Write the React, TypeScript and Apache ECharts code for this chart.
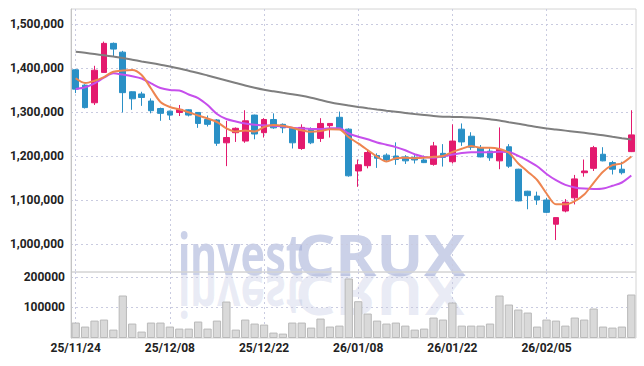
import React, { useEffect, useRef } from 'react';
import * as echarts from 'echarts';

const dates = [
  '25/11/24', '25/11/25', '25/11/26', '25/11/27', '25/11/28', '25/12/01', '25/12/02', '25/12/03', '25/12/04', '25/12/05',
  '25/12/08', '25/12/09', '25/12/10', '25/12/11', '25/12/12', '25/12/15', '25/12/16', '25/12/17', '25/12/18', '25/12/19',
  '25/12/22', '25/12/23', '25/12/24', '25/12/26', '25/12/29', '25/12/30', '26/01/02', '26/01/05', '26/01/06', '26/01/07',
  '26/01/08', '26/01/09', '26/01/12', '26/01/13', '26/01/14', '26/01/15', '26/01/16', '26/01/19', '26/01/20', '26/01/21',
  '26/01/22', '26/01/23', '26/01/26', '26/01/27', '26/01/28', '26/01/29', '26/01/30', '26/02/02', '26/02/03', '26/02/04',
  '26/02/05', '26/02/06', '26/02/09', '26/02/10', '26/02/11', '26/02/12', '26/02/13', '26/02/19', '26/02/20', '26/02/23',
];

const openPrice = [
  1396000, 1361000, 1321000, 1390000, 1456000, 1436000, 1346000, 1341000, 1325000, 1308000,
  1302000, 1299000, 1305000, 1299000, 1283000, 1282000, 1230000, 1253000, 1234000, 1293000,
  1253000, 1283000, 1272000, 1263000, 1217000, 1261000, 1240000, 1269000, 1288000, 1261000,
  1166000, 1178000, 1201000, 1202000, 1200000, 1198000, 1197000, 1191000, 1181000, 1206000,
  1187000, 1261000, 1245000, 1218000, 1211000, 1189000, 1221000, 1170000, 1120000, 1109000,
  1100000, 1045000, 1075000, 1105000, 1162000, 1172000, 1204000, 1185000, 1170000, 1210000,
];
const closePrice = [
  1352000, 1310000, 1395000, 1456000, 1443000, 1344000, 1330000, 1333000, 1303000, 1297000,
  1293000, 1306000, 1293000, 1274000, 1272000, 1229000, 1242000, 1263000, 1280000, 1250000,
  1283000, 1264000, 1264000, 1230000, 1265000, 1230000, 1274000, 1274000, 1261000, 1155000,
  1180000, 1208000, 1195000, 1191000, 1192000, 1189000, 1191000, 1185000, 1223000, 1197000,
  1234000, 1232000, 1220000, 1198000, 1196000, 1215000, 1177000, 1098000, 1110000, 1100000,
  1072000, 1060000, 1095000, 1148000, 1166000, 1219000, 1189000, 1170000, 1162000, 1248000,
];
const lowPrice = [
  1343000, 1308000, 1316000, 1390000, 1427000, 1299000, 1305000, 1314000, 1297000, 1280000,
  1282000, 1291000, 1290000, 1264000, 1267000, 1223000, 1177000, 1232000, 1230000, 1238000,
  1242000, 1262000, 1252000, 1217000, 1214000, 1227000, 1232000, 1242000, 1259000, 1153000,
  1130000, 1172000, 1173000, 1189000, 1180000, 1182000, 1183000, 1184000, 1178000, 1176000,
  1183000, 1223000, 1214000, 1197000, 1189000, 1170000, 1173000, 1097000, 1079000, 1089000,
  1070000, 1009000, 1072000, 1090000, 1153000, 1166000, 1188000, 1158000, 1158000, 1209000,
];
const highPrice = [
  1398000, 1363000, 1405000, 1460000, 1458000, 1439000, 1347000, 1346000, 1331000, 1310000,
  1303000, 1316000, 1306000, 1300000, 1292000, 1284000, 1280000, 1265000, 1304000, 1294000,
  1286000, 1297000, 1274000, 1264000, 1272000, 1265000, 1286000, 1275000, 1301000, 1263000,
  1192000, 1214000, 1206000, 1206000, 1231000, 1202000, 1202000, 1201000, 1232000, 1227000,
  1272000, 1274000, 1254000, 1225000, 1218000, 1265000, 1227000, 1171000, 1121000, 1119000,
  1105000, 1060000, 1102000, 1157000, 1192000, 1223000, 1220000, 1189000, 1187000, 1304000,
];

const ma5 = [
  1376600, 1365900, 1371100, 1379500, 1391600, 1394300, 1395500, 1384100, 1353400, 1322700,
  1311400, 1306100, 1299300, 1292000, 1285200, 1277300, 1263000, 1255700, 1258000, 1255700,
  1265900, 1270500, 1268600, 1264100, 1258400, 1255200, 1256800, 1260700, 1260200, 1242500,
  1228600, 1213600, 1198400, 1187500, 1195000, 1195900, 1194800, 1195900, 1198200, 1200000,
  1209100, 1216600, 1222700, 1218900, 1218900, 1215900, 1207300, 1183000, 1164500, 1145500,
  1114800, 1090200, 1090200, 1097700, 1112500, 1139100, 1164300, 1179100, 1183400, 1198900,
];
const ma20 = [
  1352300, 1356400, 1365200, 1378000, 1388000, 1385000, 1381400, 1376100, 1365200, 1354500,
  1350000, 1348900, 1339800, 1331800, 1315900, 1295500, 1284100, 1278600, 1274100, 1271100,
  1269800, 1268600, 1267500, 1264500, 1262700, 1261400, 1261400, 1263000, 1263000, 1251100,
  1243900, 1238000, 1230900, 1225700, 1220200, 1213000, 1204100, 1198000, 1195900, 1199500,
  1203200, 1206600, 1208400, 1208400, 1208400, 1209800, 1208900, 1200200, 1189500, 1176600,
  1159100, 1145000, 1134300, 1128600, 1125900, 1125000, 1126100, 1132300, 1139800, 1155700,
];
const ma60 = [
  1437000, 1434500, 1431800, 1428900, 1425900, 1422700, 1418900, 1415000, 1411400, 1407500,
  1403600, 1398900, 1393600, 1388600, 1383000, 1377300, 1371600, 1365900, 1360200, 1355000,
  1350500, 1347000, 1343600, 1340500, 1336800, 1332300, 1327300, 1322300, 1318200, 1314800,
  1311600, 1308600, 1305700, 1303000, 1300500, 1298000, 1295500, 1293200, 1291100, 1289500,
  1288900, 1288400, 1287700, 1285700, 1283400, 1280700, 1276800, 1273200, 1269300, 1265900,
  1262700, 1260200, 1257700, 1255200, 1252700, 1250000, 1247000, 1243600, 1240500, 1237500,
];

const volume = [
  50500, 37400, 57000, 60300, 27500, 139000, 47200, 21000, 50500, 50500,
  37400, 30800, 30800, 53800, 30800, 57000, 119300, 27500, 60300, 47200,
  43900, 17700, 14400, 50500, 50500, 34100, 63600, 37400, 40600, 194700,
  120300, 80000, 57000, 47200, 50500, 40600, 27500, 30800, 66900, 60300,
  116000, 40600, 40600, 40600, 47200, 139000, 109500, 93100, 83300, 37400,
  60300, 57000, 40600, 66900, 60300, 96400, 37400, 34100, 37400, 142300,
];

const priceTicks = [1000000, 1100000, 1200000, 1300000, 1400000, 1500000];
const volumeTicks = [100000, 200000];

const UP = '#e31a6e';
const DOWN = '#2a90c6';
const LABEL_FONT = 'Roboto, sans-serif';

export default function App() {
  const ref = useRef<HTMLDivElement>(null);

  useEffect(() => {
    if (!ref.current) return;
    const chart = echarts.init(ref.current, null, { renderer: 'svg' });

    const gridLine = { color: '#c9cbe0', type: [2, 3] as number[], width: 1 };
    const wmFill = 'rgba(155,167,210,0.52)';
    const reflFill = 'rgba(155,167,210,0.22)';
    const wmFont = 'bold 58px "Noto Sans"';

    chart.setOption({
      animation: false,
      backgroundColor: '#ffffff',
      graphic: [
        {
          type: 'text', x: 178, y: 253, scaleX: 0.71, z: -10,
          style: { text: 'invest', font: wmFont, fill: wmFill, verticalAlign: 'middle', align: 'left' },
        },
        {
          type: 'text', x: 295, y: 253, scaleX: 1.08, z: -10,
          style: { text: 'CRUX', font: wmFont, fill: wmFill, verticalAlign: 'middle', align: 'left' },
        },
        {
          type: 'text', x: 178, y: 297, scaleX: 0.71, scaleY: -1, z: -10,
          style: { text: 'invest', font: wmFont, fill: reflFill, verticalAlign: 'middle', align: 'left' },
        },
        {
          type: 'text', x: 295, y: 297, scaleX: 1.08, scaleY: -1, z: -10,
          style: { text: 'CRUX', font: wmFont, fill: reflFill, verticalAlign: 'middle', align: 'left' },
        },
      ],
      grid: [
        { left: 71, right: 8, top: 9, height: 263, show: true, borderColor: '#d4d4d4', borderWidth: 1, backgroundColor: 'transparent' },
        { left: 71, right: 8, top: 272, height: 66, show: true, borderColor: '#d4d4d4', borderWidth: 1, backgroundColor: 'transparent' },
      ],
      xAxis: [
        {
          type: 'category', gridIndex: 0, data: dates, boundaryGap: true,
          axisLine: { show: false }, axisTick: { show: false }, axisLabel: { show: false },
          splitLine: { show: true, interval: 9, alignWithLabel: true, lineStyle: gridLine },
        },
        {
          type: 'category', gridIndex: 1, data: dates, boundaryGap: true,
          axisLine: { show: false }, axisTick: { show: false },
          axisLabel: { show: true, interval: 9, color: '#222', fontSize: 12, fontWeight: 'bold', fontFamily: LABEL_FONT, margin: 4 },
          splitLine: { show: true, interval: 9, alignWithLabel: true, lineStyle: gridLine },
        },
      ],
      yAxis: [
        {
          type: 'value', gridIndex: 0, min: 936400, max: 1534100,
          axisLine: { show: true, lineStyle: { color: '#c4c4c4' } },
          axisTick: { show: false, customValues: priceTicks },
          axisLabel: {
            customValues: priceTicks, color: '#222', fontSize: 12, fontWeight: 'bold', fontFamily: LABEL_FONT, margin: 7,
            formatter: (v: number) => v.toLocaleString('en-US'),
          },
          splitLine: { show: true, lineStyle: gridLine },
        },
        {
          type: 'value', gridIndex: 1, min: 0, max: 216000,
          axisLine: { show: true, lineStyle: { color: '#c4c4c4' } },
          axisTick: { show: false, customValues: volumeTicks },
          axisLabel: {
            customValues: volumeTicks, color: '#222', fontSize: 12, fontWeight: 'bold', fontFamily: LABEL_FONT, margin: 6,
            formatter: (v: number) => String(v),
          },
          splitLine: { show: true, lineStyle: gridLine },
        },
      ],
      series: [
        {
          type: 'candlestick', xAxisIndex: 0, yAxisIndex: 0, barWidth: '66%',
          data: dates.map((_, i) => [openPrice[i], closePrice[i], lowPrice[i], highPrice[i]]),
          itemStyle: { color: UP, color0: DOWN, borderColor: UP, borderColor0: DOWN, borderWidth: 1 },
        },
        {
          type: 'line', xAxisIndex: 0, yAxisIndex: 0, data: ma60, showSymbol: false, smooth: 0.3,
          lineStyle: { color: '#7f7f7f', width: 2 },
        },
        {
          type: 'line', xAxisIndex: 0, yAxisIndex: 0, data: ma20, showSymbol: false, smooth: 0.3,
          lineStyle: { color: '#c64fec', width: 2 },
        },
        {
          type: 'line', xAxisIndex: 0, yAxisIndex: 0, data: ma5, showSymbol: false, smooth: 0.3,
          lineStyle: { color: '#ee8550', width: 2 },
        },
        {
          type: 'bar', xAxisIndex: 1, yAxisIndex: 1, data: volume, barWidth: '88%',
          itemStyle: { color: '#d9d9d9', borderColor: '#b9b9b9', borderWidth: 1 },
        },
      ],
    });

    return () => chart.dispose();
  }, []);

  return <div ref={ref} style={{ position: 'fixed', left: 0, top: 0, width: 644, height: 366 }} />;
}
